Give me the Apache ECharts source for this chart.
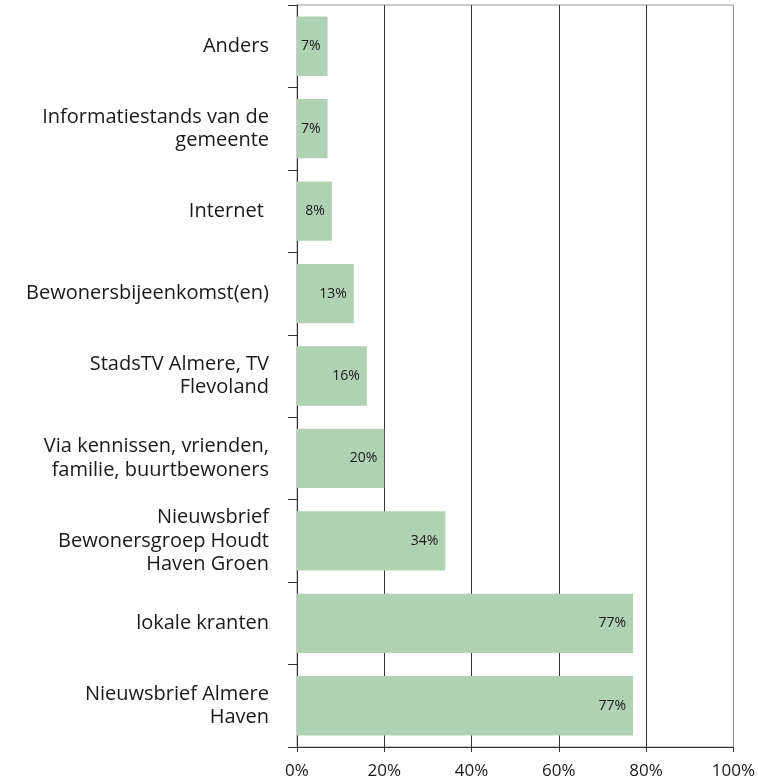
<!DOCTYPE html>
<html><head><meta charset="utf-8">
<script src="https://cdn.jsdelivr.net/npm/echarts@6/dist/echarts.min.js"></script>
<style>html,body{margin:0;padding:0;background:#fff}#c{width:758px;height:784px}</style>
</head><body><div id="c"></div>
<script>
const categories = [
  "Nieuwsbrief Almere\nHaven",
  "lokale kranten",
  "Nieuwsbrief\nBewonersgroep Houdt\nHaven Groen",
  "Via kennissen, vrienden,\nfamilie, buurtbewoners",
  "StadsTV Almere, TV\nFlevoland",
  "Bewonersbijeenkomst(en)",
  "Internet ",
  "Informatiestands van de\ngemeente",
  "Anders"
];
const values = [77, 77, 34, 20, 16, 13, 8, 7, 7];
const xTicks = [0, 20, 40, 60, 80, 100];

const chart = echarts.init(document.getElementById('c'), null, {renderer: 'canvas'});
const font = '"Open Sans", Roboto, sans-serif';
chart.setOption({
  animation: false,
  grid: {left: 297, right: 23, top: 5, bottom: 37, show: true, borderColor: '#999', borderWidth: 1},
  xAxis: {
    type: 'value', min: 0, max: 100, interval: 20,
    axisLine: {show: true, lineStyle: {color: '#333', width: 1}},
    axisTick: {show: true, length: 5, lineStyle: {color: '#333'}},
    axisLabel: {formatter: v => v + '%', color: '#1a1a1a', fontSize: 17, fontFamily: font, margin: 16},
    splitLine: {show: true, lineStyle: {color: ['#333', '#333', '#333', '#333', '#333', '#999'], width: 1}}
  },
  yAxis: {
    type: 'category', data: categories,
    axisLine: {show: true, lineStyle: {color: '#333', width: 1}},
    axisTick: {show: true, length: 9, lineStyle: {color: '#333'}},
    axisLabel: {color: '#1a1a1a', fontSize: 20, fontFamily: font, margin: 28, lineHeight: 23.5, align: 'right'}
  },
  series: [{
    type: 'bar', data: values, barCategoryGap: '28%',
    itemStyle: {color: '#b1d1b3'},
    label: {show: true, position: 'insideRight', distance: 7, formatter: p => p.value + '%', color: '#1a1a1a', fontSize: 14, fontFamily: font}
  }]
});
</script></body></html>
